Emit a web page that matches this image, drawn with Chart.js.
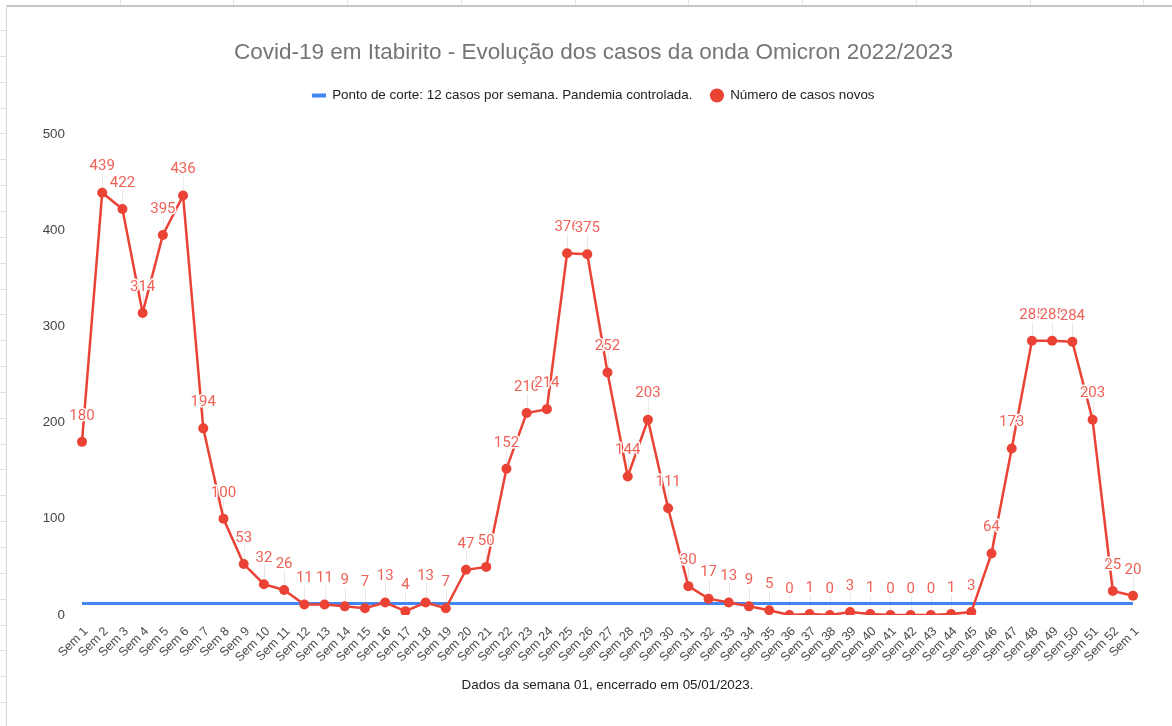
<!DOCTYPE html>
<html>
<head>
<meta charset="utf-8">
<script src="https://cdn.jsdelivr.net/npm/chart.js@4.4.1/dist/chart.umd.min.js"></script>
<style>
  html, body { margin: 0; padding: 0; background: #ffffff; width: 1172px; height: 726px; overflow: hidden; }
  #sheet { position: absolute; left: 0; top: 0; width: 1172px; height: 726px; }
  .vl { position: absolute; top: 0; width: 1px; height: 5px; background: #e2e2e2; }
  .hl { position: absolute; left: 0; height: 1px; width: 6px; background: #e2e2e2; }
  #topBorder { position: absolute; left: 6px; top: 5px; width: 1166px; height: 2px; background: #c6c6c6; }
  #leftBorder { position: absolute; left: 6px; top: 5px; width: 1px; height: 721px; background: #d6d6d6; }
  #wrap { position: absolute; left: 7px; top: 7px; width: 1165px; height: 719px; }
</style>
</head>
<body>
<div id="sheet"></div>
<div id="topBorder"></div>
<div id="leftBorder"></div>
<div id="wrap"><canvas id="c" width="1165" height="719"></canvas></div>
<script>
// ---- data ----
const weekLabels = ['Sem 1','Sem 2','Sem 3','Sem 4','Sem 5','Sem 6','Sem 7','Sem 8','Sem 9','Sem 10',
  'Sem 11','Sem 12','Sem 13','Sem 14','Sem 15','Sem 16','Sem 17','Sem 18','Sem 19','Sem 20',
  'Sem 21','Sem 22','Sem 23','Sem 24','Sem 25','Sem 26','Sem 27','Sem 28','Sem 29','Sem 30',
  'Sem 31','Sem 32','Sem 33','Sem 34','Sem 35','Sem 36','Sem 37','Sem 38','Sem 39','Sem 40',
  'Sem 41','Sem 42','Sem 43','Sem 44','Sem 45','Sem 46','Sem 47','Sem 48','Sem 49','Sem 50',
  'Sem 51','Sem 52','Sem 1'];
const newCases = [180,439,422,314,395,436,194,100,53,32,
  26,11,11,9,7,13,4,13,7,47,
  50,152,210,214,376,375,252,144,203,111,
  30,17,13,9,5,0,1,0,3,1,
  0,0,0,1,3,64,173,285,285,284,
  203,25,20];
const cutoffLine = [12,12,12,12,12,12,12,12,12,12,
  12,12,12,12,12,12,12,12,12,12,
  12,12,12,12,12,12,12,12,12,12,
  12,12,12,12,12,12,12,12,12,12,
  12,12,12,12,12,12,12,12,12,12,
  12,12,12];
const yTicks = [0,100,200,300,400,500];
const chartTitle = 'Covid-19 em Itabirito - Evolução dos casos da onda Omicron 2022/2023';
const cutoffName = 'Ponto de corte: 12 casos por semana. Pandemia controlada.';
const casesName = 'Número de casos novos';
const xAxisTitle = 'Dados da semana 01, encerrado em 05/01/2023.';

// ---- spreadsheet decoration ----
(function(){
  const sheet = document.getElementById('sheet');
  [120,233,347,461,575,688,802,916,1030,1143].forEach(x => {
    const d = document.createElement('div'); d.className = 'vl'; d.style.left = x + 'px'; sheet.appendChild(d);
  });
  for (let y = 30; y < 726; y += 25.85) {
    const d = document.createElement('div'); d.className = 'hl'; d.style.top = Math.round(y) + 'px'; sheet.appendChild(d);
  }
})();

const RED = '#ea4335';
const LABEL_RED = '#ee6258';
const BLUE = '#4285f4';
const FONT = "'Liberation Sans', Arial, sans-serif";

const pointLabels = {
  id: 'pointLabels',
  beforeDatasetsDraw(chart) {
    const meta = chart.getDatasetMeta(1);
    const ctx = chart.ctx;
    ctx.save();
    ctx.strokeStyle = '#e9e9e9';
    ctx.lineWidth = 1;
    meta.data.forEach(pt => {
      ctx.beginPath();
      ctx.moveTo(Math.round(pt.x) + 0.5, pt.y - 4);
      ctx.lineTo(Math.round(pt.x) + 0.5, pt.y - 19);
      ctx.stroke();
    });
    ctx.restore();
  },
  afterDatasetsDraw(chart) {
    const meta = chart.getDatasetMeta(1);
    const ds = chart.data.datasets[1].data;
    const ctx = chart.ctx;
    ctx.save();
    ctx.font = "15px Roboto, 'Liberation Sans', sans-serif";
    ctx.textAlign = 'center';
    ctx.textBaseline = 'middle';
    ctx.lineJoin = 'round';
    meta.data.forEach((pt, i) => {
      const t = String(ds[i]);
      const y = pt.y - 26;
      ctx.strokeStyle = '#ffffff';
      ctx.lineWidth = 3;
      ctx.strokeText(t, pt.x, y);
      ctx.fillStyle = LABEL_RED;
      ctx.fillText(t, pt.x, y);
    });
    ctx.restore();
  }
};

Chart.defaults.font.family = FONT;

new Chart(document.getElementById('c'), {
  type: 'line',
  data: {
    labels: weekLabels,
    datasets: [
      {
        label: cutoffName,
        data: cutoffLine,
        borderColor: BLUE,
        backgroundColor: BLUE,
        borderWidth: 3,
        pointRadius: 0,
        pointStyle: 'line',
        order: 1,
        yAxisID: 'y'
      },
      {
        label: casesName,
        data: newCases,
        borderColor: RED,
        backgroundColor: RED,
        borderWidth: 2.5,
        pointRadius: 5,
        pointBorderWidth: 0,
        pointBackgroundColor: RED,
        pointStyle: 'circle',
        tension: 0,
        order: 0,
        yAxisID: 'y',
        clip: { left: false, top: false, right: false, bottom: 0 }
      }
    ]
  },
  options: {
    responsive: false,
    animation: false,
    devicePixelRatio: 1,
    layout: { padding: { left: 8, right: 0, top: 0, bottom: 28.96 } },
    plugins: {
      tooltip: { enabled: false },
      title: {
        display: true,
        text: chartTitle,
        color: '#757575',
        font: { family: FONT, size: 22.5, weight: 'normal', lineHeight: 1.2 },
        padding: { top: 32.5, bottom: 4.3 }
      },
      legend: {
        display: true,
        position: 'top',
        labels: {
          usePointStyle: true,
          boxHeight: 10,
          boxWidth: 13,
          padding: 18,
          color: '#222222',
          font: { family: FONT, size: 13.4 },
          sort: (a, b) => a.datasetIndex - b.datasetIndex,
          generateLabels(chart) {
            const items = Chart.defaults.plugins.legend.labels.generateLabels(chart);
            items.forEach(it => {
              if (it.datasetIndex === 0) { it.lineWidth = 4; it.strokeStyle = BLUE; }
              else { it.lineWidth = 0; it.fillStyle = RED; }
            });
            return items;
          }
        }
      },
      subtitle: {
        display: true,
        text: '',
        weight: 500,
        font: { size: 1, lineHeight: 1 },
        padding: { top: 0, bottom: 20.8 }
      }
    },
    scales: {
      x: {
        type: 'category',
        offset: false,
        grid: { display: false, drawTicks: false },
        border: { display: false },
        ticks: {
          autoSkip: false,
          maxRotation: 45,
          minRotation: 45,
          padding: 9,
          labelOffset: 4,
          color: '#4a4a4a',
          font: { family: FONT, size: 12.5 }
        },
        title: {
          display: true,
          text: xAxisTitle,
          color: '#222222',
          font: { family: FONT, size: 13.4 },
          padding: { top: 4, bottom: 4 }
        },
        afterFit(scale) { scale.height = 82.04; }
      },
      y: {
        position: 'left',
        min: 0,
        max: 500,
        grid: { display: false, drawTicks: false },
        border: { display: false },
        ticks: {
          stepSize: 100,
          padding: 17,
          color: '#444444',
          font: { family: FONT, size: 13.4 }
        },
        afterBuildTicks(scale) { scale.ticks = yTicks.map(v => ({ value: v })); },
        afterFit(scale) { scale.width = 67; }
      },
      ySpacer: {
        position: 'right',
        display: true,
        grid: { display: false, drawTicks: false },
        border: { display: false },
        ticks: { display: false },
        afterFit(scale) { scale.width = 39; }
      }
    }
  },
  plugins: [pointLabels]
});
</script>
</body>
</html>
